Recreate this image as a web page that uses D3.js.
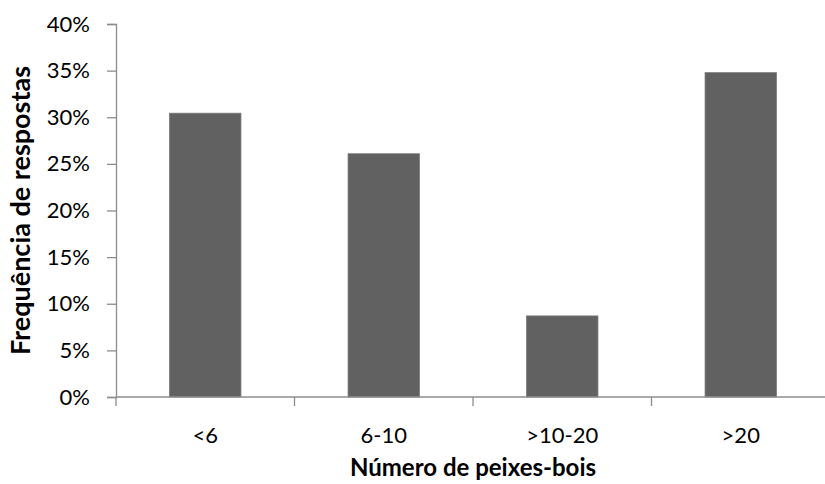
<!DOCTYPE html>
<html>
<head>
<meta charset="utf-8">
<script src="https://cdn.jsdelivr.net/npm/d3@7"></script>
<style>
  html, body { margin: 0; padding: 0; background: #fff; }
  svg { display: block; }
  text { font-family: Lato, "Open Sans", sans-serif; fill: #000; }
</style>
</head>
<body>
<svg id="chart" width="825" height="484"></svg>
<script>
// Share of answers by group size
const categories = ["<6", "6-10", ">10-20", ">20"];
const values = [7 / 23, 6 / 23, 2 / 23, 8 / 23];
const yTicks = [0, 0.05, 0.10, 0.15, 0.20, 0.25, 0.30, 0.35, 0.40];

const svg = d3.select("#chart");
const margin = { left: 116, right: -5, top: 24, bottom: 87 };
const W = 825, H = 484;
const x0 = margin.left, x1 = W - margin.right;
const y0 = H - margin.bottom, y1 = margin.top;

const x = d3.scaleBand().domain(categories).range([x0, x1]).paddingInner(0.6).paddingOuter(0.3);
const y = d3.scaleLinear().domain([0, 0.40]).range([y0, y1]);

// bars
svg.append("g").selectAll("rect")
  .data(categories)
  .join("rect")
  .attr("x", d => x(d))
  .attr("width", x.bandwidth())
  .attr("y", (d, i) => y(values[i]))
  .attr("height", (d, i) => y0 - y(values[i]))
  .attr("fill", "#616161")
  .attr("stroke", "#7a7a7a")
  .attr("stroke-width", 0.8);

// y axis
const yAxis = svg.append("g")
  .attr("transform", `translate(${x0},0)`)
  .call(d3.axisLeft(y).tickValues(yTicks).tickFormat(d3.format(".0%")).tickSize(9).tickPadding(17));
yAxis.select(".domain").attr("stroke", "#8c8c8c").attr("stroke-width", 1.3);
yAxis.selectAll(".tick line").attr("stroke", "#8c8c8c").attr("stroke-width", 1.3);
yAxis.selectAll(".tick text").style("font-size", "22px").attr("fill", "#000");

// x axis: ticks sit on category boundaries
const boundaries = d3.range(categories.length + 1).map(i => x0 + i * x.step());
const xg = svg.append("g");
xg.append("line")
  .attr("x1", x0).attr("x2", x1)
  .attr("y1", y0).attr("y2", y0)
  .attr("stroke", "#8c8c8c").attr("stroke-width", 1.3);
xg.selectAll("line.tk")
  .data(boundaries)
  .join("line")
  .attr("class", "tk")
  .attr("x1", d => d).attr("x2", d => d)
  .attr("y1", y0).attr("y2", y0 + 9)
  .attr("stroke", "#8c8c8c").attr("stroke-width", 1.3);
xg.selectAll("text")
  .data(categories)
  .join("text")
  .attr("x", d => x(d) + x.bandwidth() / 2)
  .attr("y", y0 + 46)
  .attr("text-anchor", "middle")
  .style("font-size", "22px")
  .text(d => d);

// axis titles
svg.append("text")
  .attr("x", (x0 + x1) / 2)
  .attr("y", 476)
  .attr("text-anchor", "middle")
  .style("font-size", "24px")
  .style("font-weight", "bold")
  .text("Número de peixes-bois");

svg.append("text")
  .attr("transform", `translate(30,${(y0 + y1) / 2}) rotate(-90)`)
  .attr("text-anchor", "middle")
  .style("font-size", "27px")
  .style("font-weight", "bold")
  .text("Frequência de respostas");
</script>
</body>
</html>
